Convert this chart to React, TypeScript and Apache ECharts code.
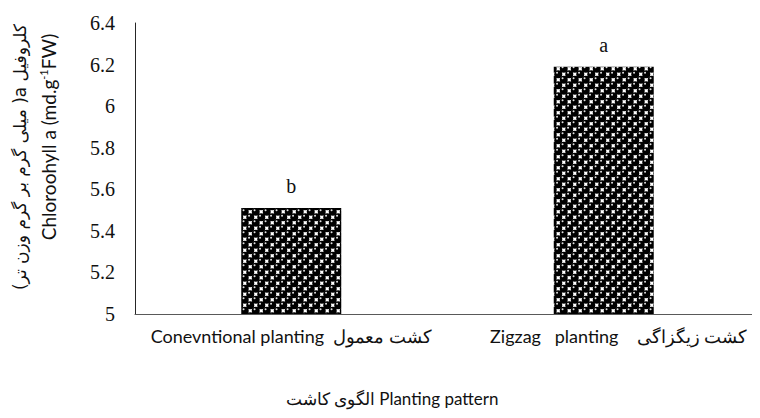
import React, { useEffect, useRef } from "react";
import * as echarts from "echarts";

const categories = ["Conevntional planting  کشت معمول", "Zigzag   planting    کشت زیگزاگی"];
const values = [5.51, 6.19];
const letters = ["b", "a"];
const yMin = 5;
const yMax = 6.4;
const yInterval = 0.2;
const yNameFa = "\u2067کلروفیل a( میلی گرم بر گرم وزن تر)\u2069";
const xName = "الگوی کاشت Planting pattern";

const SERIF = "Liberation Serif";
const SANS = "Lato";

function makePattern(): HTMLCanvasElement {
  const c = document.createElement("canvas");
  const s = 11;
  c.width = s;
  c.height = s;
  const ctx = c.getContext("2d")!;
  ctx.fillStyle = "#ffffff";
  ctx.fillRect(0, 0, s, s);
  const centers = [
    [2.75, 2.75],
    [8.25, 8.25],
  ];
  for (const [cx, cy] of centers) {
    for (const dx of [-s, 0, s]) {
      for (const dy of [-s, 0, s]) {
        ctx.fillStyle = "#000000";
        ctx.beginPath();
        ctx.arc(cx + dx, cy + dy, 4.0, 0, Math.PI * 2);
        ctx.fill();
      }
    }
  }
  for (const [cx, cy] of centers) {
    for (const dx of [-s, 0, s]) {
      for (const dy of [-s, 0, s]) {
        ctx.fillStyle = "#e0e0e0";
        ctx.beginPath();
        ctx.arc(cx + dx - 1.2, cy + dy - 1.4, 1.0, 0, Math.PI * 2);
        ctx.fill();
      }
    }
  }
  return c;
}

export default function App() {
  const ref = useRef<HTMLDivElement>(null);
  useEffect(() => {
    if (!ref.current) return;
    const chart = echarts.init(ref.current, null, { renderer: "svg" });
    const pat = makePattern();
    chart.setOption({
      animation: false,
      backgroundColor: "#ffffff",
      textStyle: { fontFamily: SERIF },
      grid: { left: 135, right: -8, top: 23, bottom: 104, containLabel: false },
      xAxis: {
        type: "category",
        data: categories,
        axisLine: { show: true, lineStyle: { color: "#595959", width: 1 } },
        axisTick: { show: false },
        axisLabel: {
          interval: 0,
          margin: 13,
          color: "#111111",
          fontSize: 18,
          fontFamily: SANS,
          formatter: (v: string, i: number) => (i === 1 ? "{z|" + v + "}" : v),
          rich: {
            z: {
              fontSize: 18,
              fontFamily: SANS,
              color: "#111111",
              padding: [0, 0, 0, 30],
            },
          },
        },
      },
      yAxis: {
        type: "value",
        min: yMin,
        max: yMax,
        interval: yInterval,
        axisLine: { show: true, lineStyle: { color: "#262626", width: 1 } },
        axisTick: { show: false },
        splitLine: { show: false },
        axisLabel: {
          margin: 20,
          color: "#111111",
          fontSize: 20,
          fontFamily: "Liberation Serif",
          textStyle: { fontFamily: "Liberation Serif", fontSize: 20 },
        },
      },
      series: [
        {
          type: "bar",
          data: values,
          barWidth: 100,
          itemStyle: {
            color: { image: pat, repeat: "repeat", imageWidth: 11, imageHeight: 11 },
          },
          label: {
            show: true,
            position: "top",
            distance: 12,
            formatter: (p: any) => letters[p.dataIndex],
            color: "#111111",
            fontSize: 20,
            fontFamily: SERIF,
          },
        },
      ],
      graphic: [
        {
          type: "text",
          x: 20,
          y: 157,
          rotation: Math.PI / 2,
          style: {
            text: yNameFa,
            fill: "#111111",
            fontSize: 17,
            fontFamily: "DejaVu Sans",
            align: "center",
            verticalAlign: "middle",
          },
        },
        {
          type: "text",
          x: 48,
          y: 137,
          rotation: Math.PI / 2,
          style: {
            text: "{n|Chloroohyll a (md.g}{s|-1}{n|FW)}",
            align: "center",
            verticalAlign: "middle",
            rich: {
              n: { fontSize: 19, fill: "#111111", fontFamily: SANS },
              s: {
                fontSize: 11,
                fill: "#111111",
                fontFamily: SANS,
                verticalAlign: "top",
                padding: [0, 0, 9, 0],
              },
            },
          },
        },
        {
          type: "text",
          x: 392,
          y: 398,
          style: {
            text: xName,
            fill: "#111111",
            fontSize: 17,
            fontFamily: SANS,
            align: "center",
            verticalAlign: "middle",
          },
        },
      ],
    });
    return () => chart.dispose();
  }, []);
  return <div ref={ref} style={{ width: 760, height: 418, margin: -8 }} />;
}
